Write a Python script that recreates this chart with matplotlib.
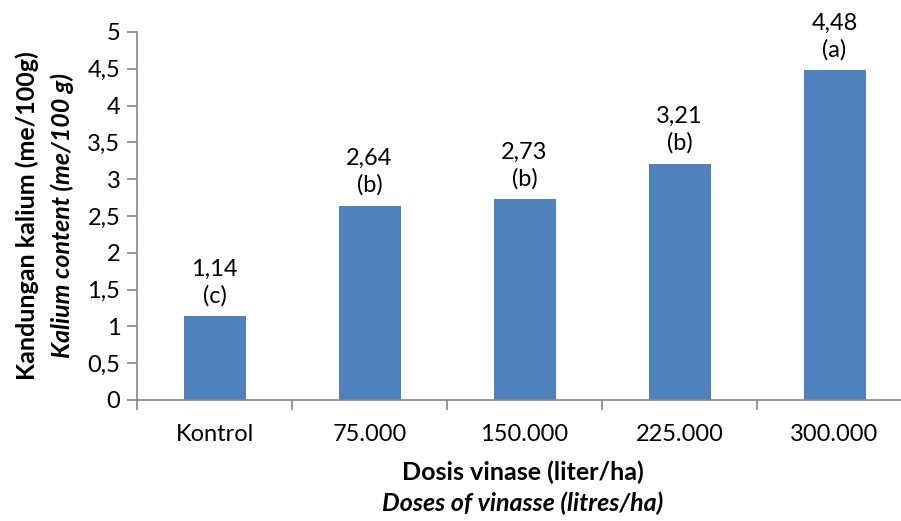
import matplotlib
matplotlib.use('Agg')
import matplotlib.pyplot as plt
import numpy as np

# Data
kategori = ['Kontrol', '75.000', '150.000', '225.000', '300.000']
kalium = [1.14, 2.64, 2.73, 3.21, 4.48]
notasi = ['(c)', '(b)', '(b)', '(b)', '(a)']

plt.rcParams['font.family'] = ['Lato', 'DejaVu Sans']

fig = plt.figure(figsize=(9.01, 5.21), dpi=100)
W, H = 901, 521
x0, x1, y0, y1 = 137, 912, 400, 32
ax = fig.add_axes([x0 / W, 1 - y0 / H, (x1 - x0) / W, (y0 - y1) / H])

x = np.arange(len(kategori))
ax.bar(x, kalium, width=0.4, color='#4F81BD', zorder=2)

for xi, v, n in zip(x, kalium, notasi):
    ax.annotate(f"{v:.2f}".replace('.', ',') + "\n" + n, (xi, v),
                xytext=(0, 7), textcoords='offset points',
                ha='center', va='bottom', fontsize=17, linespacing=1.3)

ax.set_xlim(-0.5, len(kategori) - 0.5)
ax.set_ylim(0, 5)
yt = np.arange(0, 5.01, 0.5)
ax.set_yticks(yt)
ax.set_yticklabels([f"{t:g}".replace('.', ',') for t in yt], fontsize=17)
ax.set_xticks(x)
ax.set_xticklabels(kategori, fontsize=17)
ax.set_xticks(np.arange(-0.5, len(kategori), 1), minor=True)
ax.tick_params(axis='x', which='major', length=0, pad=17)
ax.tick_params(axis='x', which='minor', length=7, width=1.2, color='#868686', direction='out')
ax.tick_params(axis='y', length=7, width=1.2, color='#868686', direction='out', pad=5)

for s in ['top', 'right']:
    ax.spines[s].set_visible(False)
for s in ['left', 'bottom']:
    ax.spines[s].set_color('#868686')
    ax.spines[s].set_linewidth(1.2)

# label sumbu (dua bahasa)
fig.text(27 / W, 1 - 216 / H, 'Kandungan kalium (me/100g)', rotation=90,
         ha='center', va='center', fontsize=18, fontweight='bold')
fig.text(62 / W, 1 - 216 / H, 'Kalium content (me/100 g)', rotation=90,
         ha='center', va='center', fontsize=18, fontweight='bold', style='italic')
fig.text(523 / W, 1 - 472 / H, 'Dosis vinase (liter/ha)',
         ha='center', va='center', fontsize=18, fontweight='bold')
fig.text(523 / W, 1 - 503 / H, 'Doses of vinasse (litres/ha)',
         ha='center', va='center', fontsize=18, fontweight='bold', style='italic')

fig.savefig('out.png', dpi=100)
